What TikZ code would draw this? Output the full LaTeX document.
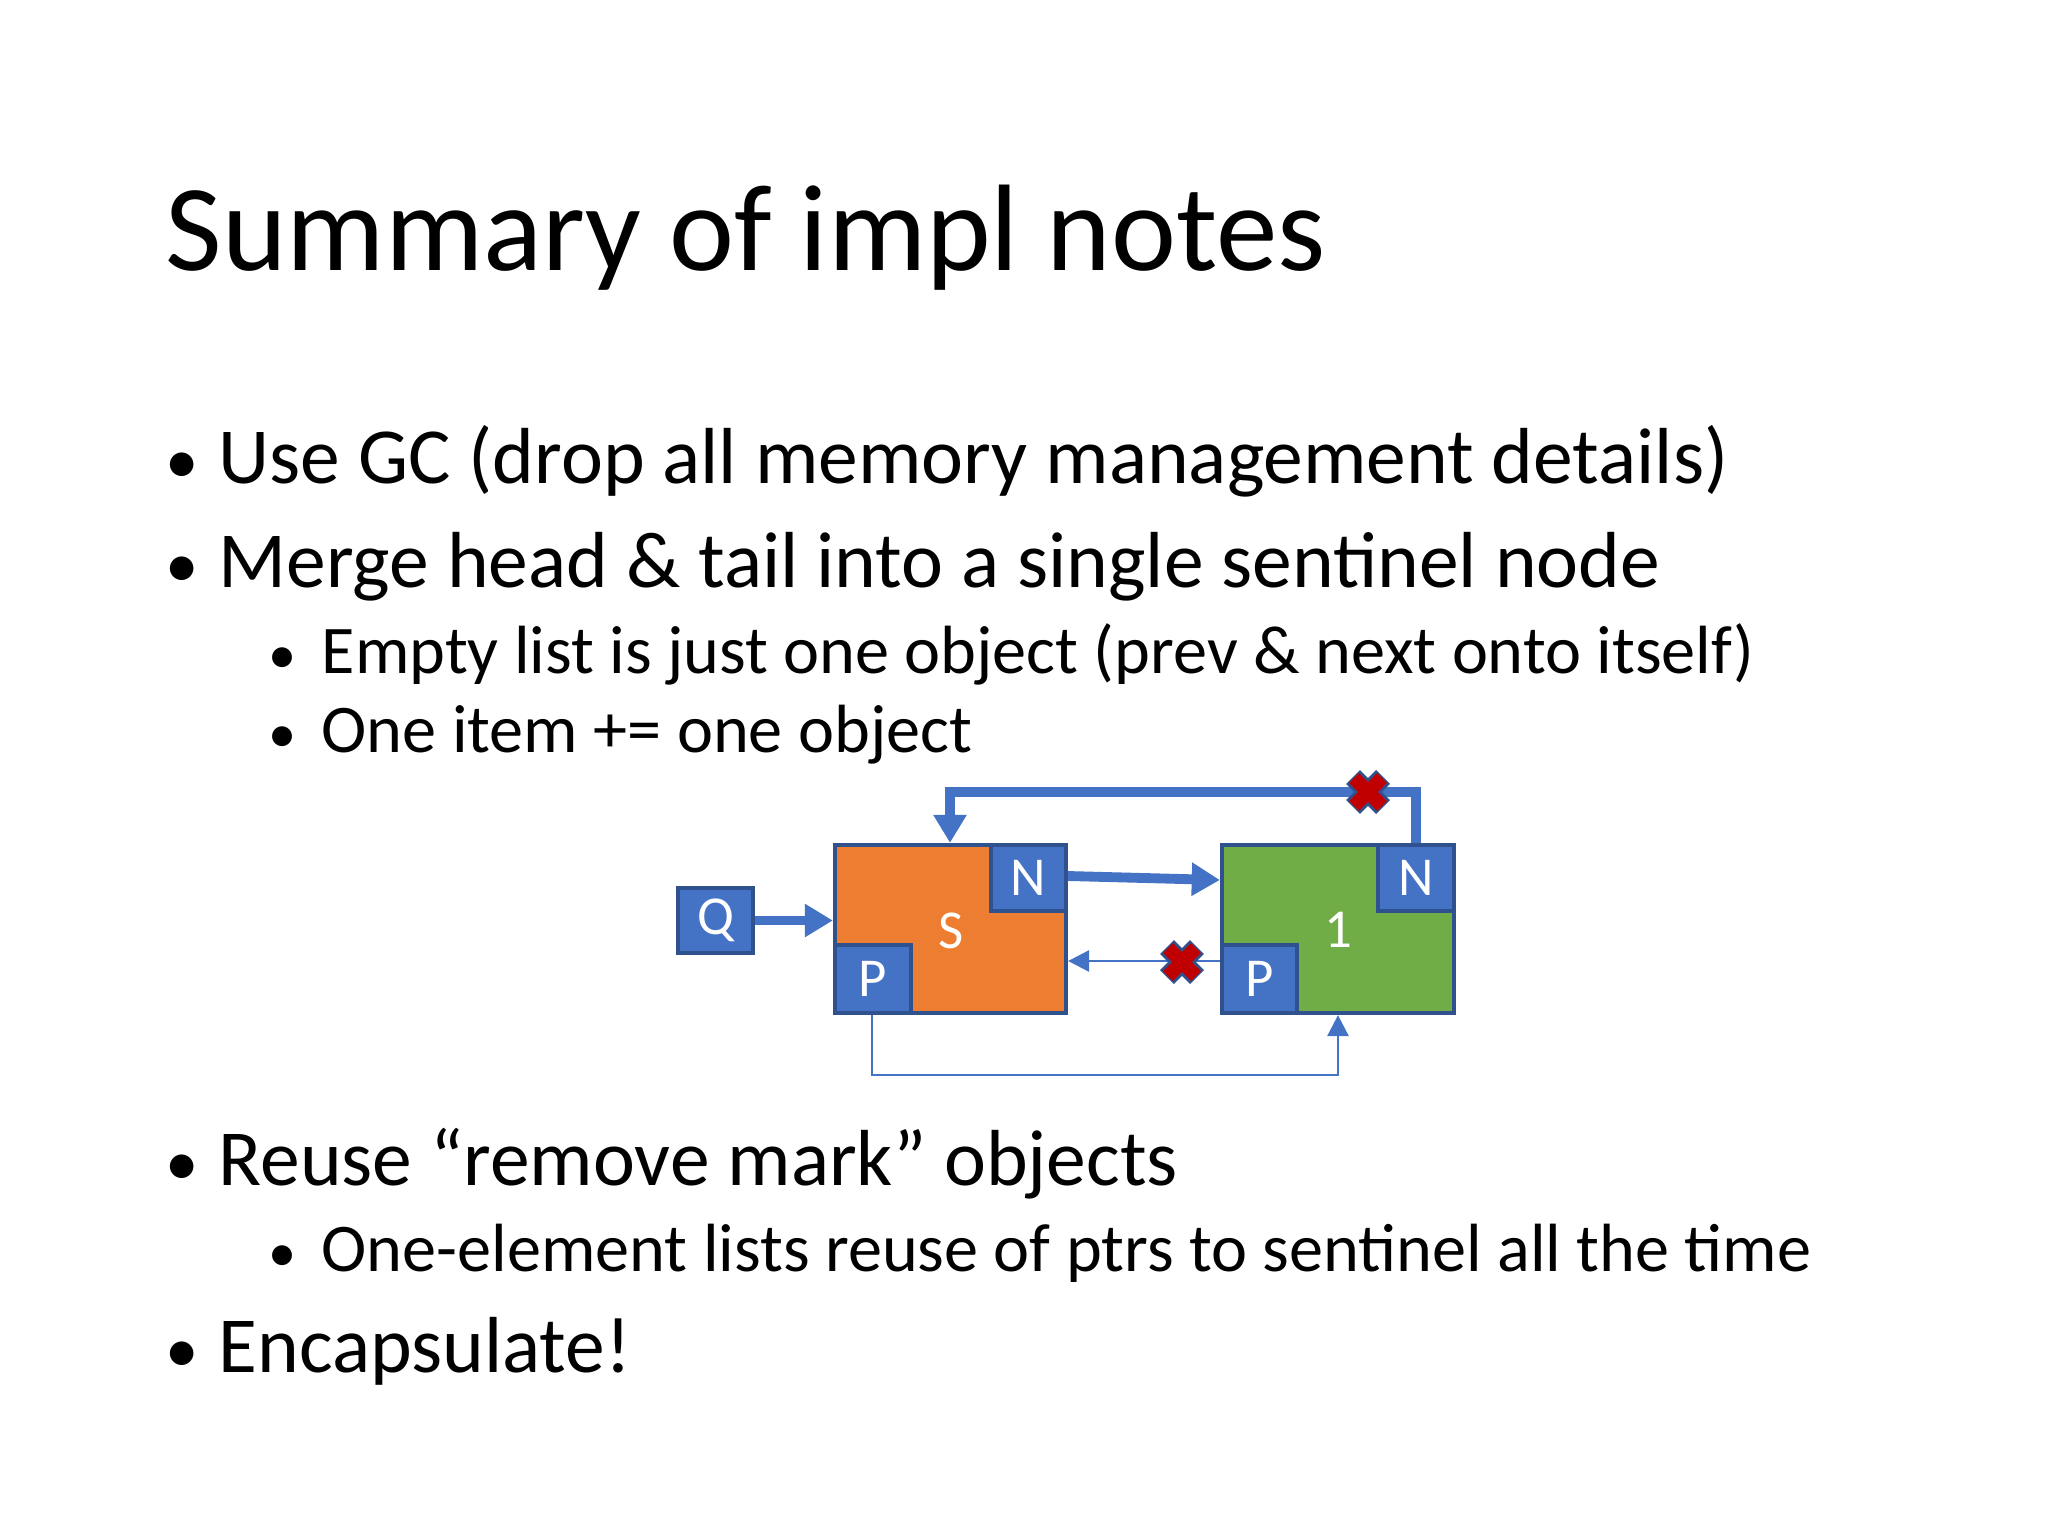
\documentclass[tikz,border=0pt]{standalone}
\usepackage{fontspec}
\setmainfont{Carlito}
\usetikzlibrary{arrows.meta,calc}
\definecolor{oblue}{HTML}{4472C4}
\definecolor{dblue}{HTML}{2F528F}
\definecolor{oorange}{HTML}{ED7D31}
\definecolor{ogreen}{HTML}{70AD47}
\definecolor{xred}{HTML}{C00000}
\tikzset{
  txt/.style={anchor=base west, inner sep=0pt},
  lvl1/.style={txt, font=\fontsize{22.6}{28}\selectfont},
  lvl2/.style={txt, font=\fontsize{19.4}{23}\selectfont},
  dot1/.style={txt, font=\fontsize{19}{28}\selectfont},
  dot2/.style={txt, font=\fontsize{16}{23}\selectfont},
  cell/.style={draw=dblue, line width=1.2pt, inner sep=0pt},
  lbl/.style={text=white, font=\fontsize{15.6}{18}\selectfont},
  thick arrow/.style={draw=oblue, line width=2.8pt, -{Triangle[length=8pt,width=9pt]}},
  thin arrow/.style={draw=oblue, line width=0.8pt, -{Triangle[length=6pt,width=6pt]}},
}
\newcommand{\redx}[1]{%
  \draw[dblue, line width=5.6pt] ($(#1)+(-15,-15)$) -- ($(#1)+(15,15)$) ($(#1)+(-15,15)$) -- ($(#1)+(15,-15)$);
  \draw[xred, line width=4pt] ($(#1)+(-14,-14)$) -- ($(#1)+(14,14)$) ($(#1)+(-14,14)$) -- ($(#1)+(14,-14)$);}
\newcommand{\cellbox}[6]{\node[cell, fill=#6, minimum width=(#4-#2)*0.01cm, minimum height=(#5-#3)*0.01cm] (#1) at ({(#2+#4)/2},{(#3+#5)/2}) {};}
\begin{document}
\begin{tikzpicture}[x=0.01cm,y=-0.01cm]
\useasboundingbox[fill=white] (0,0) rectangle (2048,1536);
\node[txt, font=\fontsize{35}{42}\selectfont] (title) at (165,270) {Summary of impl notes};
\node[dot1] (b1d) at (165,483) {•};
\node[lvl1] (b1) at (218,483) {Use GC (drop all memory management details)};
\node[dot1] (b2d) at (165,587) {•};
\node[lvl1] (b2) at (218,587) {Merge head \& tail into a single sentinel node};
\node[dot2] (s1d) at (268,673) {•};
\node[lvl2] (s1) at (321,673) {Empty list is just one object (prev \& next onto itself)};
\node[dot2] (s2d) at (268,752) {•};
\node[lvl2] (s2) at (321,752) {One item += one object};
\node[dot1] (b3d) at (165,1185) {•};
\node[lvl1] (b3) at (218,1185) {Reuse “remove mark” objects};
\node[dot2] (s3d) at (268,1271) {•};
\node[lvl2] (s3) at (321,1271) {One-element lists reuse of ptrs to sentinel all the time};
\node[dot1] (b4d) at (165,1372) {•};
\node[lvl1] (b4) at (218,1372) {Encapsulate!};
% diagram
\cellbox{S}{835}{845}{1066}{1013}{oorange}
\node[lbl] (Slbl) at (951,931) {S};
\cellbox{SN}{991}{845}{1066}{911}{oblue}
\node[lbl] at (SN) {N};
\cellbox{SP}{835}{945}{911}{1013}{oblue}
\node[lbl] at (SP) {P};
\cellbox{O}{1222}{845}{1454}{1013}{ogreen}
\node[lbl] (Olbl) at (1338,930) {1};
\cellbox{ON}{1378}{845}{1454}{911}{oblue}
\node[lbl] at (ON) {N};
\cellbox{OP}{1222}{945}{1297}{1013}{oblue}
\node[lbl] at (OP) {P};
\cellbox{Q}{678}{888}{753}{953}{oblue}
\node[lbl] at (Q) {Q};
% connectors
\draw[thick arrow] (Q.east) -- (S.west |- Q.east);
\draw[thick arrow] (SN.east |- 0,876) -- (O.west |- 0,880);
\draw[thick arrow] (ON.north -| 1416,0) -- (1416,792) -- (950,792) -- (S.north -| 950,0);
\draw[thin arrow] (OP.west |- 0,961) -- (S.east |- 0,961);
\draw[thin arrow] (SP.south -| 872,0) -- (872,1075) -- (1338,1075) -- (O.south -| 1338,0);
\redx{1368,792}
\redx{1182,962}
\end{tikzpicture}
\end{document}
